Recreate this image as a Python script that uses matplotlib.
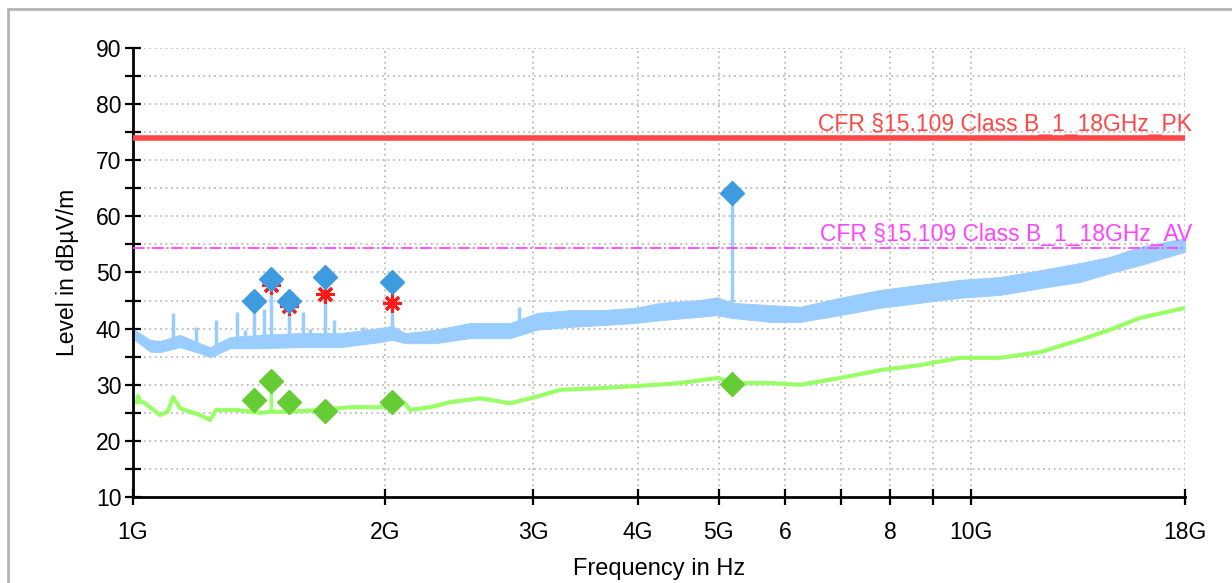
import matplotlib.pyplot as plt
import numpy as np
from matplotlib.patches import Rectangle

plt.rcParams['font.family'] = ['Liberation Sans', 'DejaVu Sans']

# peak trace, read as a band (lower / upper edge) in dBuV/m
pk_f = [1.0, 1.048, 1.077, 1.138, 1.202, 1.236, 1.305, 1.417, 1.582, 1.766,
        1.971, 2.037, 2.112, 2.293, 2.524, 2.818, 3.034, 3.322, 3.608, 3.972,
        4.255, 4.749, 4.976, 5.185, 5.755, 6.249, 6.976, 7.786, 8.69, 9.7,
        10.83, 12.08, 13.49, 14.65, 15.91, 18.0]
pk_lo = [38.2, 35.9, 35.8, 36.7, 35.6, 34.9, 36.5, 36.5, 36.7, 36.7,
         37.6, 38.0, 37.4, 37.4, 38.3, 38.3, 39.8, 40.3, 40.6, 41.0,
         41.5, 42.1, 42.4, 41.9, 41.2, 41.2, 42.4, 43.7, 44.6, 45.5,
         46.0, 47.2, 48.3, 49.9, 51.3, 53.7]
pk_hi = [40.0, 38.0, 37.8, 38.9, 37.4, 36.7, 38.5, 38.9, 39.2, 39.2,
         40.1, 40.5, 39.2, 39.8, 41.0, 41.0, 42.8, 43.3, 43.3, 43.7,
         44.6, 45.1, 45.6, 44.6, 44.2, 43.9, 45.5, 46.9, 47.8, 48.7,
         49.2, 50.4, 51.7, 52.8, 54.6, 56.1]

# narrow spikes on the peak trace
spike_f = [1.116, 1.189, 1.256, 1.331, 1.36, 1.394, 1.433, 1.461, 1.535,
           1.595, 1.626, 1.695, 1.737, 1.881, 2.037, 2.888, 5.185]
spike_top = [42.8, 40.3, 41.5, 43.0, 39.8, 44.9, 43.5, 48.8, 44.9,
             43.0, 40.0, 46.2, 41.5, 40.3, 44.5, 43.9, 64.2]

# average trace
av_f = [1.0, 1.012, 1.014, 1.02, 1.0335, 1.077, 1.10, 1.116, 1.138, 1.202,
        1.236, 1.256, 1.331, 1.417, 1.461, 1.535, 1.672, 1.815, 1.971, 2.112,
        2.14, 2.262, 2.389, 2.594, 2.818, 3.034, 3.233, 3.608, 4.027, 4.495,
        4.976, 5.228, 5.755, 6.249, 6.976, 7.786, 8.69, 9.7, 10.83, 12.08,
        13.49, 14.65, 15.91, 18.0]
av_lvl = [26.9, 26.9, 28.0, 27.0, 26.7, 24.6, 25.2, 27.8, 25.8, 24.6,
          23.7, 25.5, 25.5, 25.0, 25.2, 25.2, 25.5, 26.0, 26.0, 26.7,
          25.5, 26.0, 26.9, 27.6, 26.7, 27.9, 29.1, 29.4, 29.8, 30.3,
          31.2, 30.3, 30.3, 30.0, 31.2, 32.6, 33.5, 34.8, 34.8, 35.8,
          38.0, 39.8, 41.9, 43.7]

# final measurement points
fin_f = [1.394, 1.461, 1.535, 1.695, 2.037, 5.185]
fin_pk = [44.9, 48.8, 44.9, 49.2, 48.3, 64.2]
fin_av = [27.3, 30.6, 26.9, 25.3, 26.9, 30.1]
pre_f = [1.461, 1.535, 1.695, 2.037]
pre_pk = [47.8, 44.0, 46.2, 44.5]

lim_pk = 74.0
lim_av = 54.4
lim_pk_txt = 'CFR §15.109 Class B_1_18GHz_PK'
lim_av_txt = 'CFR §15.109 Class B_1_18GHz_AV'

xticks = [1, 2, 3, 4, 5, 6, 7, 8, 9, 10, 18]
xlabels = ['1G', '2G', '3G', '4G', '5G', '6', '', '8', '', '10G', '18G']

fs = 16.5

fig = plt.figure(figsize=(12.32, 5.83), dpi=100)
ax = fig.add_axes([0.108, 0.1475, 0.8539, 0.7702])

fig.patches.append(Rectangle((8/1232, -0.2), 1.2, 1.2 - 8.5/583, transform=fig.transFigure,
                             fill=False, edgecolor='#b4b4b4', linewidth=2, zorder=0))

ax.set_xscale('log')
ax.set_xlim(1, 18)
ax.set_ylim(10, 90)

# grid
for yv in np.arange(15, 91, 5):
    ax.axhline(yv, color='#bbbbbb', lw=1.3, ls=(0, (1, 2)), zorder=0)
for xv in xticks[1:]:
    ax.axvline(xv, color='#bbbbbb', lw=1.3, ls=(0, (1, 2)), zorder=0)

pk_col = '#99ccff'
av_col = '#99ff66'

ax.fill_between(pk_f, pk_lo, pk_hi, color=pk_col, lw=0.6, edgecolor=pk_col, zorder=2)
base = np.interp(spike_f, pk_f, pk_lo)
ax.vlines(spike_f, base, spike_top, color=pk_col, lw=2.5, zorder=2)

ax.plot(av_f, av_lvl, color=av_col, lw=3, zorder=2)
ax.vlines([1.461], [25.2], [30.6], color=av_col, lw=2.5, zorder=2)

ax.axhline(lim_pk, color='#ff4646', lw=4, zorder=3)
ax.axhline(lim_av, color='#ff44ff', lw=1.3, ls='-.', zorder=3)
ax.text(18.35, lim_pk + 0.3, lim_pk_txt, color='#ff4646', fontsize=fs,
        ha='right', va='bottom', zorder=2)
ax.text(18.35, lim_av + 0.3, lim_av_txt, color='#ff44ff', fontsize=fs,
        ha='right', va='bottom', zorder=2)

ax.plot(pre_f, pre_pk, ls='none', marker=(8, 2, 0), ms=13, mew=2.2,
        color='#ff1a1a', zorder=4)
ax.plot(fin_f, fin_pk, ls='none', marker='D', ms=12.5, color='#3e9be0', zorder=5)
ax.plot(fin_f, fin_av, ls='none', marker='D', ms=12.5, color='#66cc33', zorder=5)

ax.set_xticks(xticks)
ax.set_xticklabels(xlabels)
ax.xaxis.set_minor_locator(plt.NullLocator())
ax.set_yticks(np.arange(10, 91, 10))
ax.set_yticks(np.arange(15, 90, 10), minor=True)
ax.tick_params(axis='both', which='both', direction='inout', length=11, width=1.6,
               labelsize=fs, color='black')
ax.tick_params(axis='x', pad=12)
ax.tick_params(axis='y', pad=3)

for s in ['top', 'right']:
    ax.spines[s].set_visible(False)
for s in ['left', 'bottom']:
    ax.spines[s].set_linewidth(2)

ax.set_xlabel('Frequency in Hz', fontsize=17, labelpad=10)
ax.set_ylabel('Level in dBµV/m', fontsize=fs, labelpad=12)

fig.savefig('out.png', dpi=100)
